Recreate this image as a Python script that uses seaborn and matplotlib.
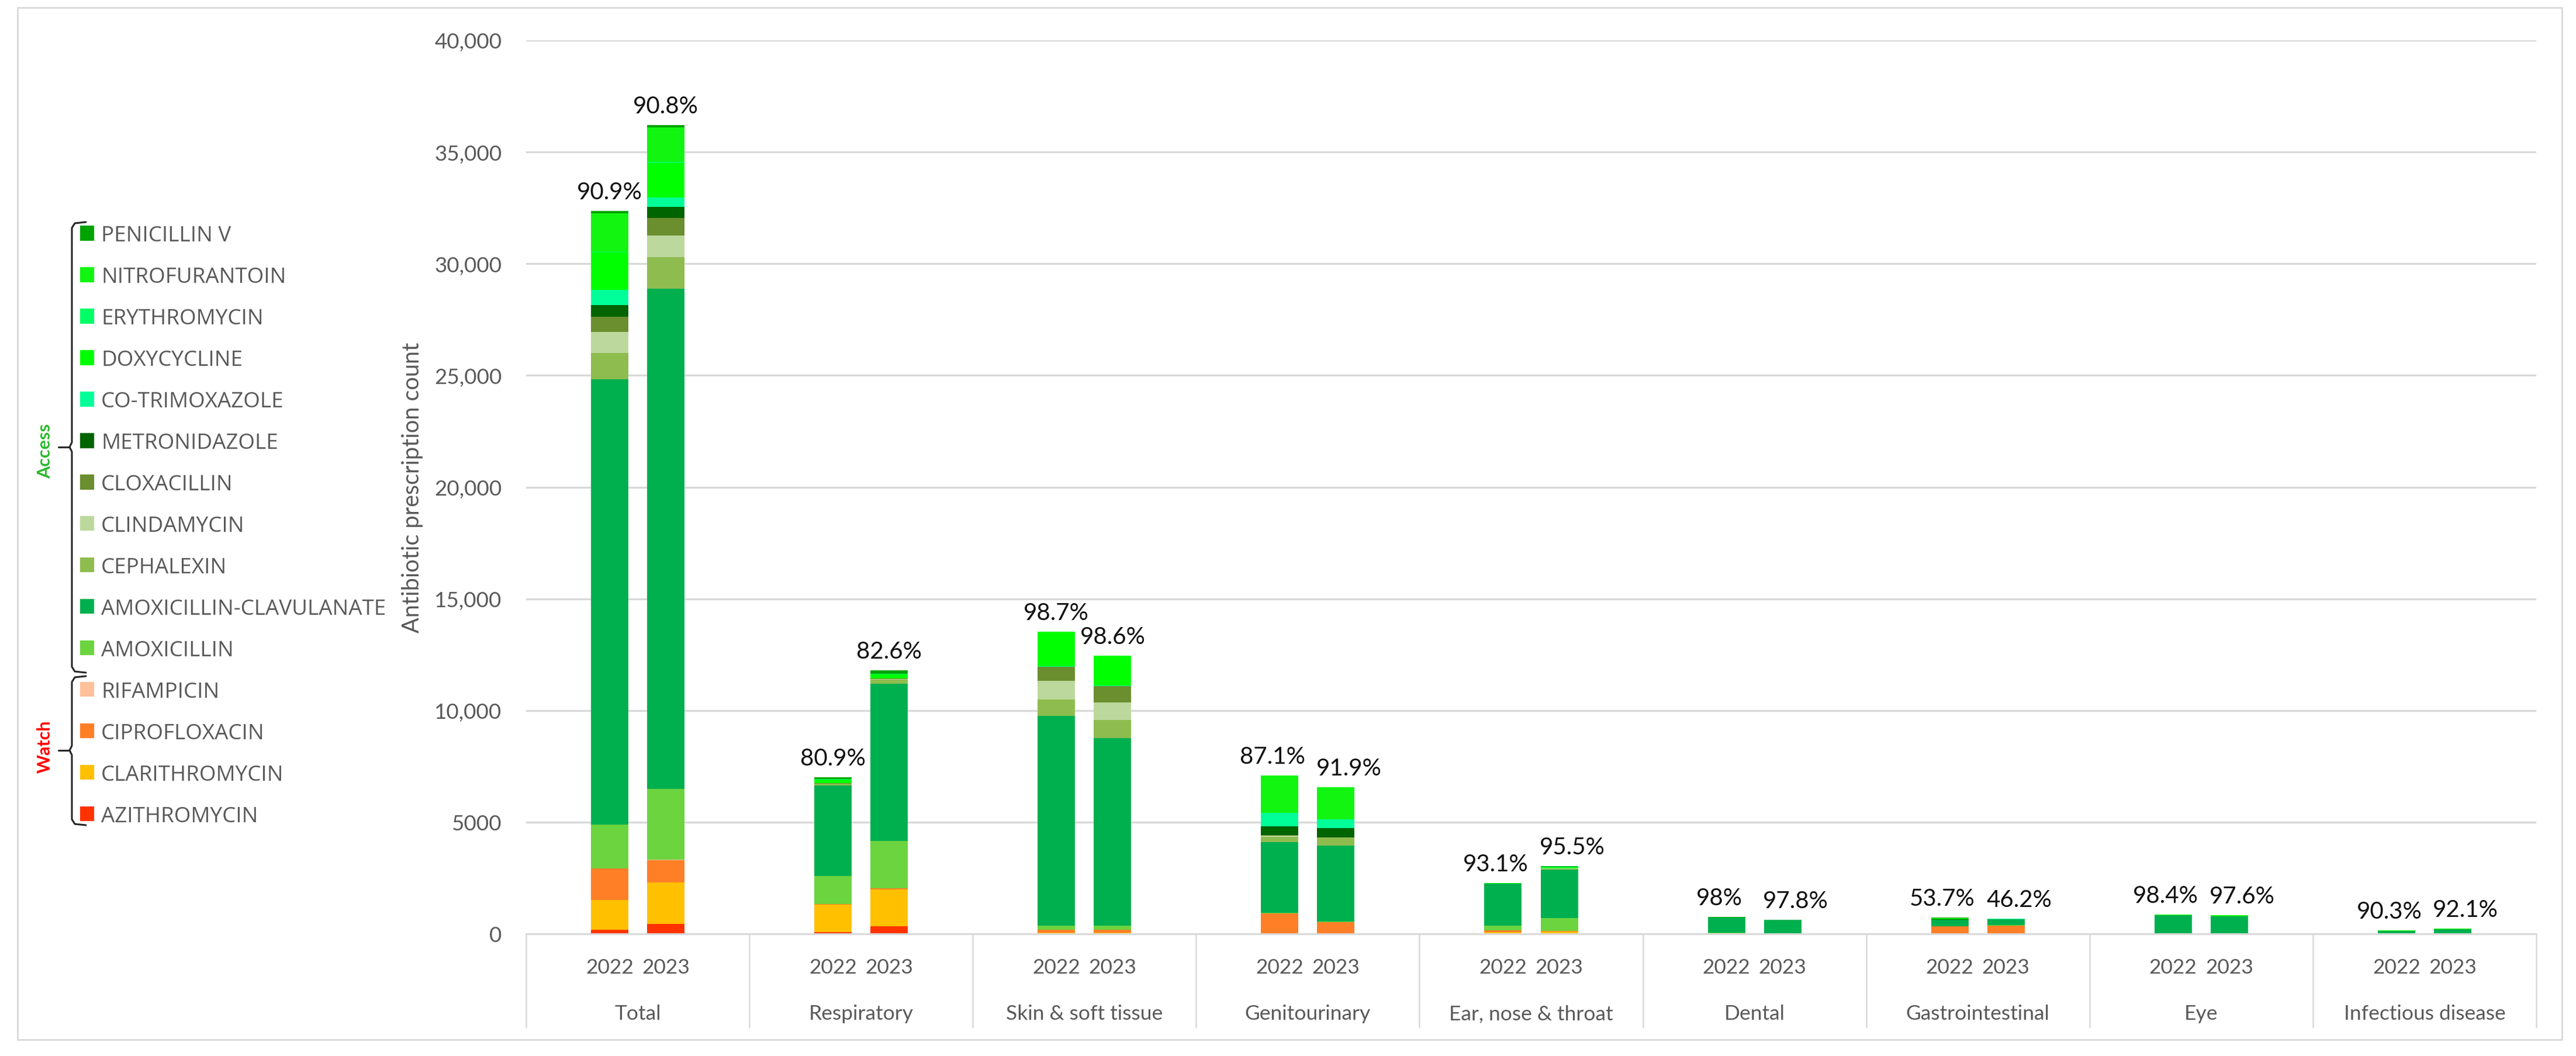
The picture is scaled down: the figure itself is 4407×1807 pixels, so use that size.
import matplotlib
matplotlib.use("Agg")
import matplotlib.pyplot as plt
from matplotlib.patches import Patch, Rectangle
from matplotlib.lines import Line2D
import matplotlib.transforms as mtransforms
import seaborn as sns
import pandas as pd
import numpy as np

# ---------------- data ----------------
groups = ["Total", "Respiratory", "Skin & soft tissue", "Genitourinary",
          "Ear, nose & throat", "Dental", "Gastrointestinal", "Eye",
          "Infectious disease"]
years = ["2022", "2023"]

# values per bar in order: group1-2022, group1-2023, group2-2022, ...
azithromycin = [175, 451, 90, 340, 5, 5, 10, 10, 20, 10, 5, 4, 12, 10, 4, 10, 5, 6]
clarithromycin = [1330, 1855, 1212, 1650, 60, 60, 5, 5, 50, 95, 5, 5, 5, 5, 5, 5, 5, 6]
ciprofloxacin = [1428, 1002, 40, 60, 110, 110, 900, 517, 87, 31, 5, 5, 320, 358, 5, 5, 5, 6]
rifampicin = [10, 10, 0, 0, 0, 0, 0, 0, 0, 0, 0, 0, 0, 0, 0, 0, 0, 0]
amoxicillin = [1945, 3173, 1240, 2120, 200, 180, 30, 20, 210, 580, 30, 20, 10, 10, 0, 0, 0, 0]
amoxicillin_clavulanate = [19950, 22381, 4060, 7020, 9380, 8410, 3150, 3395, 1880, 2160,
                           680, 590, 270, 260, 825, 775, 120, 180]
cephalexin = [1178, 1429, 70, 180, 740, 800, 260, 365, 10, 40, 0, 0, 0, 0, 0, 0, 0, 0]
clindamycin = [927, 952, 20, 30, 820, 790, 45, 10, 5, 10, 15, 8, 0, 0, 0, 0, 0, 0]
cloxacillin = [677, 802, 10, 20, 640, 740, 10, 5, 0, 0, 0, 0, 0, 0, 0, 0, 0, 0]
metronidazole = [526, 501, 5, 5, 10, 10, 400, 415, 0, 0, 0, 0, 30, 20, 0, 0, 0, 0]
co_trimoxazole = [677, 401, 10, 10, 15, 15, 610, 375, 0, 0, 0, 0, 20, 10, 0, 0, 0, 0]
doxycycline = [1679, 1554, 150, 170, 1540, 1330, 0, 0, 10, 60, 0, 0, 20, 20, 21, 35, 20, 30]
erythromycin = [40, 40, 20, 30, 0, 0, 0, 0, 0, 20, 0, 0, 0, 0, 0, 0, 0, 0]
nitrofurantoin = [1715, 1539, 0, 0, 0, 0, 1670, 1450, 0, 0, 0, 0, 20, 0, 0, 0, 0, 0]
penicillin_v = [100, 125, 85, 155, 0, 0, 0, 0, 10, 26, 10, 8, 21, 0, 0, 0, 0, 0]

access_share_labels = ["90.9%", "90.8%", "80.9%", "82.6%", "98.7%", "98.6%",
                       "87.1%", "91.9%", "93.1%", "95.5%", "98%", "97.8%",
                       "53.7%", "46.2%", "98.4%", "97.6%", "90.3%", "92.1%"]

y_ticks = [0, 5000, 10000, 15000, 20000, 25000, 30000, 35000, 40000]
y_tick_labels = ["0", "5000", "10,000", "15,000", "20,000", "25,000",
                 "30,000", "35,000", "40,000"]

# stacking order, bottom -> top
drug_names = ["AZITHROMYCIN", "CLARITHROMYCIN", "CIPROFLOXACIN", "RIFAMPICIN",
              "AMOXICILLIN", "AMOXICILLIN-CLAVULANATE", "CEPHALEXIN", "CLINDAMYCIN",
              "CLOXACILLIN", "METRONIDAZOLE", "CO-TRIMOXAZOLE", "DOXYCYCLINE",
              "ERYTHROMYCIN", "NITROFURANTOIN", "PENICILLIN V"]
drug_values = [azithromycin, clarithromycin, ciprofloxacin, rifampicin, amoxicillin,
               amoxicillin_clavulanate, cephalexin, clindamycin, cloxacillin,
               metronidazole, co_trimoxazole, doxycycline, erythromycin,
               nitrofurantoin, penicillin_v]
drug_colors = ["#FF3300", "#FFC000", "#FF7F27", "#FFC09A", "#6CD43F", "#00B04F",
               "#8FBC4F", "#BDD89C", "#6B8E2F", "#006400", "#00FF99", "#00FF00",
               "#00FF66", "#11F511", "#00A300"]

# ---------------- long table ----------------
rows = []
for name, vals in zip(drug_names, drug_values):
    for i, v in enumerate(vals):
        rows.append({"group": groups[i // 2], "year": years[i % 2], "drug": name, "value": v})
df = pd.DataFrame(rows)
df["drug"] = pd.Categorical(df["drug"], categories=drug_names, ordered=True)
df = df.sort_values(["group", "year", "drug"])
df["cum"] = df.groupby(["group", "year"], observed=True)["value"].cumsum()
totals = df.groupby(["group", "year"], observed=True)["value"].sum()

# ---------------- style ----------------
sns.set_style("white")
plt.rcParams["font.family"] = ["Lato", "DejaVu Sans"]
GREY_TXT = "#595959"
GRID = "#D9D9D9"
XTICK_FS = 25.5
YTICK_FS = 26.5

W, H, DPI = 4407, 1808, 100
fig = plt.figure(figsize=(W / DPI, H / DPI), dpi=DPI)
ax_l, ax_r, ax_t, ax_b = 900, 4339, 70, 1599
ax = fig.add_axes([ax_l / W, 1 - ax_b / H, (ax_r - ax_l) / W, (ax_b - ax_t) / H])

BAR_GROUP_WIDTH = 0.503
BAR_GAP = 0.333

# draw cumulative layers from the top drug down, so lower layers overlay
for name, color in reversed(list(zip(drug_names, drug_colors))):
    sub = df[df["drug"] == name]
    sns.barplot(data=sub, x="group", y="cum", hue="year", order=groups,
                hue_order=years, palette={y: color for y in years},
                width=BAR_GROUP_WIDTH, gap=BAR_GAP, saturation=1,
                errorbar=None, legend=False, ax=ax, linewidth=0, edgecolor="none")

ax.set_xlim(-0.5, len(groups) - 0.5)
ax.set_ylim(0, 40000)
ax.set_yticks(y_ticks)
ax.set_yticklabels(y_tick_labels)
ax.yaxis.grid(True, color=GRID, linewidth=2.4)
ax.set_axisbelow(True)
for s in ["left", "right", "top"]:
    ax.spines[s].set_visible(False)
ax.spines["bottom"].set_color(GRID)
ax.spines["bottom"].set_linewidth(2.2)
ax.tick_params(axis="y", length=0, pad=30, labelsize=YTICK_FS, labelcolor=GREY_TXT)

# x ticks: years under each bar
offs = BAR_GROUP_WIDTH / 4
bar_x = [g + (-offs if k == 0 else offs) for g in range(len(groups)) for k in range(2)]
ax.set_xticks(bar_x)
ax.set_xticklabels([years[i % 2] for i in range(len(bar_x))])
ax.tick_params(axis="x", length=0, pad=29.5, labelsize=XTICK_FS, labelcolor=GREY_TXT)
ax.set_xlabel("")
ax.set_ylabel("")

trans = mtransforms.blended_transform_factory(ax.transData, ax.transAxes)
ax_h = ax_b - ax_t
for g, name in enumerate(groups):
    ax.text(g, -136 / ax_h, name, transform=trans, ha="center", va="center",
            fontsize=XTICK_FS, color=GREY_TXT)
for b in np.arange(-0.5, len(groups), 1.0):
    ax.add_line(Line2D([b, b], [0, -160 / ax_h], transform=trans, color=GRID,
                       linewidth=1.8, clip_on=False))

# percentage labels (access share) above each bar
tot_list = [totals[(groups[i // 2], years[i % 2])] for i in range(len(bar_x))]
for i, (x, t, lab) in enumerate(zip(bar_x, tot_list, access_share_labels)):
    other = tot_list[i + 1] if i % 2 == 0 else tot_list[i - 1]
    dx = 0
    if abs(t - other) < 1000:
        dx = -9 if i % 2 == 0 else 16
    ax.annotate(lab, (x, t), xytext=(dx, 10), textcoords="offset points",
                ha="center", va="bottom", fontsize=29, color="#111111")

# y label
fig.text(705 / W, 1 - (ax_t + ax_b) / 2 / H, "Antibiotic prescription count",
         rotation=90, ha="center", va="center", fontsize=28.5, color=GREY_TXT)

# legend (top -> bottom)
handles = [Patch(facecolor=c, edgecolor="none") for c in reversed(drug_colors)]
labels = list(reversed(drug_names))
leg = fig.legend(handles, labels, loc="upper left",
                 bbox_to_anchor=(137 / W, 1 - 386 / H), bbox_transform=fig.transFigure,
                 frameon=False, borderpad=0, borderaxespad=0,
                 handlelength=0.65, handleheight=0.68, handletextpad=0.33,
                 labelspacing=0.95, prop={"family": ["Open Sans", "DejaVu Sans"], "size": 26.5})
for t in leg.get_texts():
    t.set_color(GREY_TXT)

# brackets grouping the legend entries
def fig_pts(pts):
    return [p[0] / W for p in pts], [1 - p[1] / H for p in pts]

def bracket(top, bottom, tip):
    pts = [(147, top), (128, top + 2), (123, top + 10), (123, tip - 8),
           (119, tip), (123, tip + 8), (123, bottom - 10), (128, bottom - 2),
           (147, bottom)]
    xs, ys = fig_pts(pts)
    fig.add_artist(Line2D(xs, ys, transform=fig.transFigure, color="#262626", linewidth=2.2))
    xs, ys = fig_pts([(119, tip), (100, tip)])
    fig.add_artist(Line2D(xs, ys, transform=fig.transFigure, color="#262626", linewidth=2.2))

bracket(381, 1152, 766)
bracket(1158, 1413, 1285)
fig.text(77 / W, 1 - 772 / H, "Access", rotation=90, ha="center", va="center",
         fontsize=22, fontweight="bold", color="#2DB82D")
fig.text(77 / W, 1 - 1278 / H, "Watch", rotation=90, ha="center", va="center",
         fontsize=22, fontweight="bold", color="#FF0000")

# outer frame
fig.patches.append(Rectangle((30 / W, 1 - 1780 / H), (4383 - 30) / W, (1780 - 14) / H,
                             transform=fig.transFigure, fill=False, edgecolor=GRID,
                             linewidth=2))

fig.savefig("out.png", dpi=DPI, facecolor="white")
